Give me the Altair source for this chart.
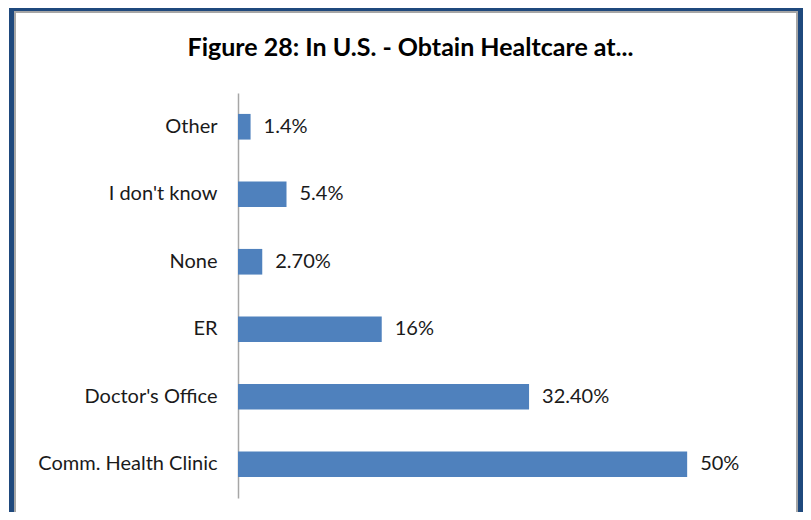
import altair as alt
import pandas as pd

categories = ["Other", "I don't know", "None", "ER", "Doctor's Office", "Comm. Health Clinic"]
values = [1.4, 5.4, 2.7, 16.0, 32.4, 50.0]
value_labels = ["1.4%", "5.4%", "2.70%", "16%", "32.40%", "50%"]
title_text = "Figure 28: In U.S. - Obtain Healtcare at..."

df = pd.DataFrame({"cat": categories, "val": values, "lab": value_labels})

FONT = "Lato"
PLOT_W, PLOT_H = 539, 405

y_enc = alt.Y(
    "cat:N",
    sort=categories,
    scale=alt.Scale(paddingInner=0.62, paddingOuter=0.31),
    axis=alt.Axis(
        title=None,
        ticks=False,
        grid=False,
        domainColor="#A6A6A6",
        domainWidth=1.5,
        labelFont=FONT,
        labelFontSize=20,
        labelColor="#1a1a1a",
        labelPadding=21,
    ),
)
x_enc = alt.X("val:Q", scale=alt.Scale(domain=[0, 60], nice=False), axis=None)

bars = alt.Chart(df).mark_bar(color="#4F81BD").encode(x=x_enc, y=y_enc)
texts = alt.Chart(df).mark_text(
    align="left", baseline="middle", dx=13, font=FONT, fontSize=20, color="#1a1a1a"
).encode(x=x_enc, y=alt.Y("cat:N", sort=categories), text="lab:N")


def frame_rect(x1, x2, y1, y2, color):
    return alt.Chart(df).mark_rect(color=color, clip=False).encode(
        x=alt.value(x1), x2=alt.value(x2), y=alt.value(y1), y2=alt.value(y2)
    )

BLUE = "#1F497D"
GREY = "#A6A6A6"
frame = [
    frame_rect(-229, -224, -85, 419, BLUE),
    frame_rect(560, 565, -85, 419, BLUE),
    frame_rect(-229, 565, -85, -82, BLUE),
    frame_rect(-224, -222, -82, 419, GREY),
    frame_rect(558, 560, -82, 419, GREY),
    frame_rect(-224, 560, -82, -80, GREY),
]

chart = alt.layer(bars, texts, *frame).properties(
    width=PLOT_W,
    height=PLOT_H,
    title=alt.TitleParams(
        text=title_text,
        font=FONT,
        fontSize=25,
        fontWeight="bold",
        color="#000000",
        anchor="middle",
        dx=-97,
        offset=-53,
    ),
    autosize=alt.AutoSizeParams(type="none"),
    padding={"left": 230, "top": 85, "right": 26, "bottom": 14},
    background="white",
).configure_view(stroke=None)

chart.save("out.html", embed_options={"renderer": "svg", "actions": False})
